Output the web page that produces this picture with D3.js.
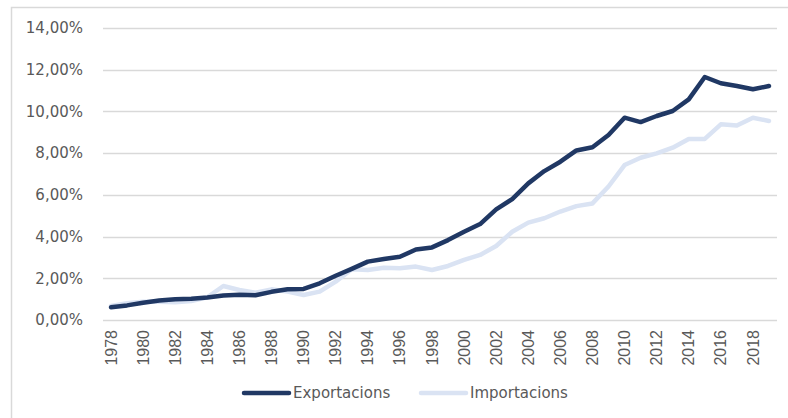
<!DOCTYPE html>
<html>
<head>
<meta charset="utf-8">
<script src="https://cdn.jsdelivr.net/npm/d3@7"></script>
<style>
  body { margin: 0; background: #fff; }
  svg { display: block; }
</style>
</head>
<body>
<div id="chart"></div>
<script>
// Exportacions / Importacions 1978-2019 (%)
const years = d3.range(1978, 2020);
const exportacions = [0.61, 0.70, 0.83, 0.93, 1.00, 1.02, 1.08, 1.17, 1.21, 1.19, 1.35, 1.47, 1.49, 1.76, 2.12,
  2.45, 2.80, 2.92, 3.03, 3.38, 3.48, 3.83, 4.23, 4.60, 5.30, 5.80, 6.55, 7.14, 7.59, 8.13,
  8.28, 8.87, 9.70, 9.49, 9.78, 10.02, 10.58, 11.65, 11.35, 11.22, 11.06, 11.22];
const importacions = [0.67, 0.80, 0.88, 0.88, 0.85, 0.91, 1.09, 1.63, 1.44, 1.31, 1.47, 1.36, 1.20, 1.36, 1.84,
  2.43, 2.40, 2.51, 2.48, 2.56, 2.40, 2.59, 2.88, 3.12, 3.55, 4.23, 4.67, 4.88, 5.20, 5.46,
  5.59, 6.40, 7.43, 7.78, 7.99, 8.26, 8.68, 8.68, 9.38, 9.33, 9.70, 9.54];
const yTicks = [0, 2, 4, 6, 8, 10, 12, 14];
const xTickYears = years.filter(y => y % 2 === 0);

const width = 788, height = 418;
const margin = { left: 103, right: 11, top: 28, bottom: 98 };

const svg = d3.select('#chart')
  .append('svg')
  .attr('width', width)
  .attr('height', height);

// marco del grafico
svg.append('rect')
  .attr('x', 11.5).attr('y', 7.5)
  .attr('width', 820).attr('height', 440)
  .attr('fill', 'none')
  .attr('stroke', '#d9d9d9')
  .attr('stroke-width', 1.5);

const x = d3.scaleBand()
  .domain(years)
  .range([margin.left, width - margin.right]);

const y = d3.scaleLinear()
  .domain([0, 14])
  .range([height - margin.bottom, margin.top]);

const fmt = v => d3.format('.2f')(v).replace('.', ',') + '%';

// grid
svg.append('g')
  .selectAll('line')
  .data(yTicks)
  .join('line')
  .attr('x1', margin.left)
  .attr('x2', width - margin.right)
  .attr('y1', d => Math.round(y(d)) + 0.5)
  .attr('y2', d => Math.round(y(d)) + 0.5)
  .attr('stroke', '#d9d9d9')
  .attr('stroke-width', 1.5);

const yAxis = svg.append('g')
  .attr('transform', `translate(${margin.left - 20},0)`)
  .call(d3.axisLeft(y).tickValues(yTicks).tickFormat(fmt).tickSize(0).tickPadding(0));
yAxis.select('.domain').remove();
yAxis.selectAll('text')
  .attr('fill', '#595959')
  .attr('font-family', 'DejaVu Sans')
  .attr('font-size', 15);

const xAxis = svg.append('g')
  .attr('transform', `translate(0,${y(0) + 10})`)
  .call(d3.axisBottom(x).tickValues(xTickYears).tickSize(0).tickPadding(0));
xAxis.select('.domain').remove();
xAxis.selectAll('text')
  .attr('fill', '#595959')
  .attr('font-family', 'Liberation Sans')
  .attr('font-size', 16)
  .attr('text-anchor', 'end')
  .attr('transform', 'rotate(-90)')
  .attr('x', 0)
  .attr('y', 0)
  .attr('dy', '0.35em');

const cx = d => x(d) + x.bandwidth() / 2;

const series = [
  { name: 'Exportacions', values: exportacions, color: '#203864' },
  { name: 'Importacions', values: importacions, color: '#dae3f3' }
];

const line = d3.line()
  .x((d, i) => cx(years[i]))
  .y(d => y(d));

svg.append('g')
  .selectAll('path')
  .data(series.slice().reverse())
  .join('path')
  .attr('d', d => line(d.values))
  .attr('fill', 'none')
  .attr('stroke', d => d.color)
  .attr('stroke-width', 4.5)
  .attr('stroke-linejoin', 'round')
  .attr('stroke-linecap', 'round');

// leyenda
const legendX = [244, 421];
const legend = svg.append('g')
  .selectAll('g')
  .data(series)
  .join('g')
  .attr('transform', (d, i) => `translate(${legendX[i]},393)`);
legend.append('line')
  .attr('x1', 0).attr('x2', 45)
  .attr('stroke', d => d.color)
  .attr('stroke-width', 4.5)
  .attr('stroke-linecap', 'round');
legend.append('text')
  .attr('x', 49)
  .attr('dy', '0.35em')
  .attr('fill', '#595959')
  .attr('font-family', 'DejaVu Sans')
  .attr('font-size', 15)
  .text(d => d.name);
</script>
</body>
</html>
